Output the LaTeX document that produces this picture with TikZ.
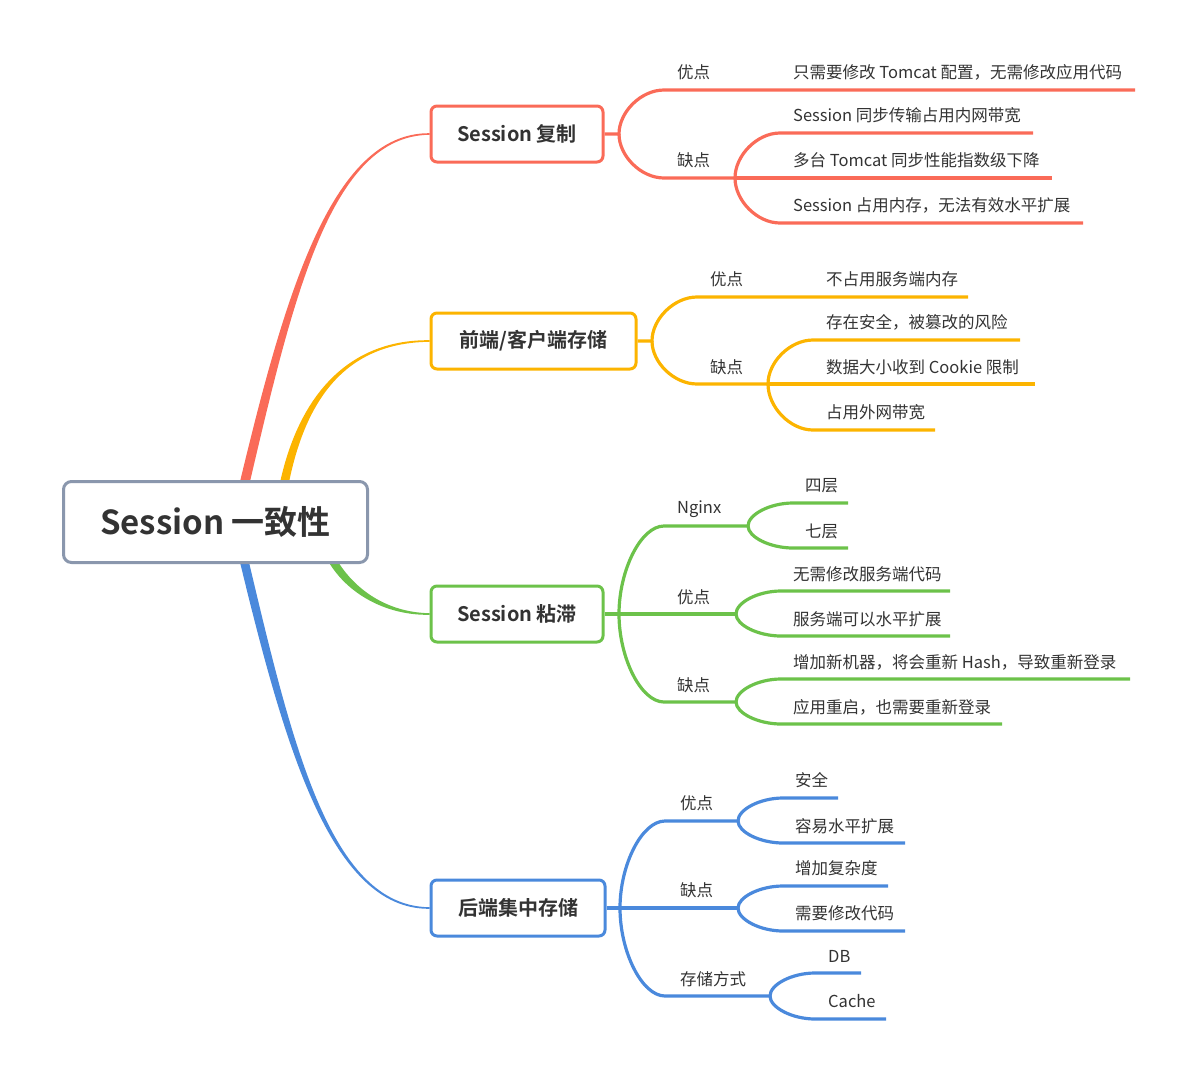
\documentclass[tikz,border=0pt]{standalone}
\usepackage{fontspec}
\setmainfont{Noto Sans CJK SC}[BoldFont={Noto Sans CJK SC Bold}]
\usetikzlibrary{calc,backgrounds}
\definecolor{ink}{HTML}{333333}
\definecolor{red1}{HTML}{FA6B58}
\definecolor{org1}{HTML}{FCB400}
\definecolor{grn1}{HTML}{6CC24A}
\definecolor{blu1}{HTML}{4A89DC}
\definecolor{gry1}{HTML}{8A97AD}
\tikzset{
  root/.style={draw=gry1, line width=3pt, rounded corners=8pt, fill=white,
    minimum width=304pt, minimum height=81pt, text=ink,
    font=\fontsize{33}{39}\selectfont\bfseries},
  topic/.style={line width=3pt, rounded corners=6pt, fill=white,
    minimum height=56pt, text=ink, font=\fontsize{20}{24}\selectfont\bfseries},
  lab/.style={anchor=west, inner sep=0pt, text=ink,
    font=\fontsize{16.5}{20}\selectfont},
  lk/.style={line width=3.2pt},
  twig/.style={to path={let \p1=(\tikztostart), \p2=(\tikztotarget) in
    .. controls (\x1,{0.5*\y1+0.5*\y2}) and (\x1+22pt,\y2) .. (\x1+45pt,\y2)
    -- (\tikztotarget)}}
}
% tapered main branch: colour, start, control 1, control 2, end, start offset, end offset
\newcommand\taper[7]{%
  \fill[#1] ($(#2)+(#6)$) .. controls ($(#3)+0.9*(#6)$) and ($(#4)+2*(#7)$) .. ($(#5)+(#7)$)
    -- ($(#5)-(#7)$) .. controls ($(#4)-2*(#7)$) and ($(#3)-0.9*(#6)$) .. ($(#2)-(#6)$) -- cycle;}
\begin{document}
\begin{tikzpicture}[x=1pt,y=-1pt]
  \useasboundingbox (0,0) rectangle (1195,1080);
  \node[root] (root) at (215.5,522) {Session 一致性};
  \node[topic,draw=red1,minimum width=172pt] (r1) at (517,134) {Session 复制};
  \node[topic,draw=org1,minimum width=205pt] (o1) at (533.5,341) {前端/客户端存储};
  \node[topic,draw=grn1,minimum width=172pt] (g1) at (517,614) {Session 粘滞};
  \node[topic,draw=blu1,minimum width=174pt] (b1) at (518,908) {后端集中存储};
  \begin{scope}[on background layer]
    \coordinate (rt) at (243,490);
    \coordinate (ot) at (283,490);
    \coordinate (gt) at (330,556);
    \coordinate (bt) at (243,556);
    \taper{red1}{rt}{288,300}{330,134}{r1.west}{-5,0}{0,-0.8}
    \taper{org1}{ot}{300,400}{345,341}{o1.west}{-4.5,0}{0,-0.8}
    \taper{grn1}{gt}{348,590}{385,614}{g1.west}{-3,3}{0,0.8}
    \taper{blu1}{bt}{288,744}{330,908}{b1.west}{-4.5,0}{0,0.8}
  \end{scope}

  % Session 复制
  \node[lab] (r1p) at (677,72) {优点};
  \node[lab] (r1p1) at (793,72) {只需要修改 Tomcat 配置，无需修改应用代码};
  \node[lab] (r1n) at (677,160) {缺点};
  \node[lab] (r1n1) at (793,115) {Session 同步传输占用内网带宽};
  \node[lab] (r1n2) at (793,160) {多台 Tomcat 同步性能指数级下降};
  \node[lab] (r1n3) at (793,205) {Session 占用内存，无法有效水平扩展};
  \coordinate (r1s) at (619,134);
  \coordinate (r1pe) at (1135,90);
  \coordinate (r1ns) at (735,178);
  \coordinate (r1n1e) at (1033,133);
  \coordinate (r1n2e) at (1052,178);
  \coordinate (r1n3e) at (1083,223);
  \begin{scope}[lk,red1]
    \draw (r1.east) -- (r1s) to[twig] (r1pe);
    \draw (r1s) to[twig] (r1ns) to[twig] (r1n1e);
    \draw (r1ns) -- (r1n2e);
    \draw (r1ns) to[twig] (r1n3e);
  \end{scope}

  % 前端/客户端存储
  \node[lab] (o1p) at (710,279) {优点};
  \node[lab] (o1p1) at (826,279) {不占用服务端内存};
  \node[lab] (o1n) at (710,367) {缺点};
  \node[lab] (o1n1) at (826,322) {存在安全，被篡改的风险};
  \node[lab] (o1n2) at (826,367) {数据大小收到 Cookie 限制};
  \node[lab] (o1n3) at (826,412) {占用外网带宽};
  \coordinate (o1s) at (652,341);
  \coordinate (o1pe) at (968,297);
  \coordinate (o1ns) at (768,384);
  \coordinate (o1n1e) at (1020,340);
  \coordinate (o1n2e) at (1035,384);
  \coordinate (o1n3e) at (935,430);
  \begin{scope}[lk,org1]
    \draw (o1.east) -- (o1s) to[twig] (o1pe);
    \draw (o1s) to[twig] (o1ns) to[twig] (o1n1e);
    \draw (o1ns) -- (o1n2e);
    \draw (o1ns) to[twig] (o1n3e);
  \end{scope}

  % Session 粘滞
  \node[lab] (g1a) at (677,509) {Nginx};
  \node[lab] (g1a1) at (805,486) {四层};
  \node[lab] (g1a2) at (805,531) {七层};
  \node[lab] (g1p) at (677,597) {优点};
  \node[lab] (g1p1) at (793,574) {无需修改服务端代码};
  \node[lab] (g1p2) at (793,619) {服务端可以水平扩展};
  \node[lab] (g1n) at (677,685) {缺点};
  \node[lab] (g1n1) at (793,662) {增加新机器，将会重新 Hash，导致重新登录};
  \node[lab] (g1n2) at (793,707) {应用重启，也需要重新登录};
  \coordinate (g1s) at (619,614);
  \coordinate (g1as) at (748,526);
  \coordinate (g1a1e) at (848,503);
  \coordinate (g1a2e) at (848,548);
  \coordinate (g1ps) at (736,614);
  \coordinate (g1p1e) at (950,591);
  \coordinate (g1p2e) at (950,636);
  \coordinate (g1ns) at (736,702);
  \coordinate (g1n1e) at (1130,679);
  \coordinate (g1n2e) at (1002,724);
  \begin{scope}[lk,grn1]
    \draw (g1.east) -- (g1ps);
    \draw (g1s) to[twig] (g1as) to[twig] (g1a1e);
    \draw (g1as) to[twig] (g1a2e);
    \draw (g1ps) to[twig] (g1p1e);
    \draw (g1ps) to[twig] (g1p2e);
    \draw (g1s) to[twig] (g1ns) to[twig] (g1n1e);
    \draw (g1ns) to[twig] (g1n2e);
  \end{scope}

  % 后端集中存储
  \node[lab] (b1p) at (680,803) {优点};
  \node[lab] (b1p1) at (795,780) {安全};
  \node[lab] (b1p2) at (795,826) {容易水平扩展};
  \node[lab] (b1n) at (680,890) {缺点};
  \node[lab] (b1n1) at (795,868) {增加复杂度};
  \node[lab] (b1n2) at (795,913) {需要修改代码};
  \node[lab] (b1w) at (680,979) {存储方式};
  \node[lab] (b1w1) at (828,956) {DB};
  \node[lab] (b1w2) at (828,1001) {Cache};
  \coordinate (b1s) at (620,908);
  \coordinate (b1ps) at (738,821);
  \coordinate (b1p1e) at (838,798);
  \coordinate (b1p2e) at (905,843);
  \coordinate (b1ns) at (738,908);
  \coordinate (b1n1e) at (888,886);
  \coordinate (b1n2e) at (905,931);
  \coordinate (b1ws) at (770,996);
  \coordinate (b1w1e) at (861,973);
  \coordinate (b1w2e) at (886,1019);
  \begin{scope}[lk,blu1]
    \draw (b1.east) -- (b1ns);
    \draw (b1s) to[twig] (b1ps) to[twig] (b1p1e);
    \draw (b1ps) to[twig] (b1p2e);
    \draw (b1ns) to[twig] (b1n1e);
    \draw (b1ns) to[twig] (b1n2e);
    \draw (b1s) to[twig] (b1ws) to[twig] (b1w1e);
    \draw (b1ws) to[twig] (b1w2e);
  \end{scope}
\end{tikzpicture}
\end{document}
